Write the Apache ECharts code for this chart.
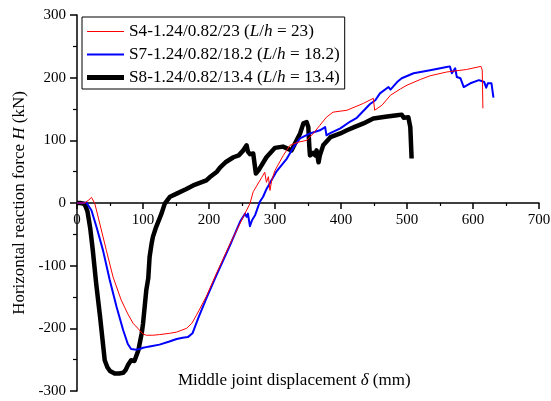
<!DOCTYPE html>
<html>
<head>
<meta charset="utf-8">
<script src="https://cdn.jsdelivr.net/npm/echarts@6/dist/echarts.min.js"></script>
<style>html,body{margin:0;padding:0;background:#fff}#c{width:551px;height:401px}</style>
</head>
<body>
<div id="c"></div>
<script>
var seriesNames = ['S4-1.24/0.82/23', 'S7-1.24/0.82/18.2', 'S8-1.24/0.82/13.4'];
var ratioLabels = ['23', '18.2', '13.4'];
var xTicks = [0, 100, 200, 300, 400, 500, 600, 700];
var yTicks = [-300, -200, -100, 0, 100, 200, 300];

var s4Data = [[0,0],[12,0],[18,5],[22,9],[24,6],[27,-1],[35,-35],[44.6,-76],[54.6,-118],[67,-155],[77,-177],[85,-192],[93,-201],[100,-209],[105,-211],[115,-211],[125,-210],[140,-208],[151,-206],[166,-200],[174,-192],[181,-179],[196,-149],[211,-113],[232,-65],[252,-22],[262,-1],[267,18],[280,41],[284.5,49],[287,33],[290,42],[292.4,20],[295,36],[300,52],[312.6,76],[322.7,92],[335,97],[348,100],[358,111],[368,124],[378,137],[388,145],[409,148],[434,159],[449,167],[451,148],[462,156],[475,172],[490,182],[500,188],[502,185],[520,197],[535,203],[560,209],[590,213],[612,218],[614,212],[615,151]];

var s7Data = [[0,0],[10,0],[14,1],[17,0],[22,-12],[30,-40],[39.5,-76],[49.6,-123],[60,-166],[70,-203],[77,-225],[82,-233],[90,-234],[95,-233],[100,-231],[105,-230],[110,-229],[125,-226],[140,-221],[151,-217],[160,-215],[168,-214],[175,-208],[184,-183],[196,-152],[211,-116],[232,-67],[247,-30],[254.5,-17],[257,-22],[259,-17],[262,-37],[265,-28],[270,-19],[277,2],[282,10],[287,22],[302,50],[318,71],[328,89],[338,103],[353,111],[368,116],[376,121],[378,108],[383,111],[399,119],[414,130],[424,136],[444,158],[452,164],[459,175],[472,185],[475,181],[485,193],[492,199],[510,207],[535,212],[560,217],[565,218],[568,207],[573,215],[575.5,201],[581,199],[586,185],[596,191],[609,196],[617,193],[620,184],[622.5,191],[628,191],[631,168]];

var s8Data = [[0,0],[5,0],[10,-1],[13,-5],[16,-14],[20,-40],[24,-76],[29,-128],[35,-182],[42,-251],[46,-262],[50,-268],[57,-272],[64,-272],[70,-271],[74,-266],[77,-259],[82,-251],[87,-252],[90,-249],[93,-235],[98,-208],[100,-193],[105,-139],[108,-120],[110,-86],[113,-65],[115,-54],[120,-38],[125,-25],[128,-17],[133,-1],[141,10],[151,15],[165,22],[176,28],[196,36],[201,41],[212,50],[217,57],[225,65],[237,73],[245,76],[252,84],[257,92],[259,82],[262,78],[265,76],[267,79],[271,47],[275,52],[287,73],[300,88],[312,90],[325,84],[338,111],[343,127],[348,129],[350.5,121],[352,90],[353,76],[355,73],[358,80],[361,76],[363,84],[366,65],[368,76],[373,92],[384,105],[399,111],[409,116],[420,121],[434,127],[449,135],[470,138],[485,140],[492,141],[495,136],[502,137],[505,121],[507,71]];

var colors = ['#ff0000', '#0000ff', '#000000'];
var widths = [1, 2, 4.5];
var iconPaths = ['path://M0,0h37v1h-37z', 'path://M0,0h37v2h-37z', 'path://M0,0h37v5h-37z'];
var allData = [s4Data, s7Data, s8Data];
var FONT = '"Liberation Serif", "Times New Roman", serif';
var GRID_TOP = 15, GRID_BOTTOM = 10, H = 401;
var zeroOffset = -((H - GRID_TOP - GRID_BOTTOM) * (0 - yTicks[0]) / (yTicks[yTicks.length - 1] - yTicks[0]));

var chart = echarts.init(document.getElementById('c'), null, {renderer: 'canvas'});
var series = seriesNames.map(function (n, i) {
  return {
    name: n, type: 'line', data: allData[i], symbol: 'none', smooth: false,
    lineStyle: {color: colors[i], width: widths[i], join: 'round'},
    itemStyle: {color: colors[i]},
    animation: false, z: 3 - i
  };
});

chart.setOption({
  animation: false,
  grid: {left: 77, right: 12, top: GRID_TOP, bottom: GRID_BOTTOM, containLabel: false, outerBoundsMode: 'none'},
  xAxis: {
    type: 'value', position: 'bottom', offset: zeroOffset,
    min: xTicks[0], max: xTicks[xTicks.length - 1], interval: 100,
    axisLine: {show: true, onZero: false, lineStyle: {color: '#000', width: 1.5}},
    axisTick: {show: true, inside: false, length: 6, lineStyle: {color: '#000', width: 1.5}},
    minorTick: {show: true, splitNumber: 2, length: 3, lineStyle: {color: '#000', width: 1.2}},
    axisLabel: {show: true, color: '#000', fontSize: 15, fontFamily: FONT, margin: 10, showMinLabel: true, showMaxLabel: true},
    splitLine: {show: false}
  },
  yAxis: {
    type: 'value', min: yTicks[0], max: yTicks[yTicks.length - 1], interval: 100,
    axisLine: {onZero: false, lineStyle: {color: '#000', width: 1.5}},
    axisTick: {show: true, inside: false, length: 7, lineStyle: {color: '#000', width: 1.5}},
    minorTick: {show: true, splitNumber: 2, length: 4, lineStyle: {color: '#000', width: 1.2}},
    axisLabel: {color: '#000', fontSize: 15, fontFamily: FONT, margin: 11},
    splitLine: {show: false},
    name: 'Horizontal reaction force {i|H} (kN)',
    nameLocation: 'middle', nameGap: 47, nameRotate: 90,
    nameTextStyle: {color: '#000', fontSize: 17, fontFamily: FONT,
      rich: {i: {fontStyle: 'italic', fontSize: 17, fontFamily: FONT, color: '#000'}}}
  },
  legend: {
    orient: 'vertical', left: 82, top: 17,
    padding: [5, 5, 2, 5],
    borderColor: '#000', borderWidth: 1,
    itemWidth: 37, itemHeight: 14, itemGap: 4,
    textStyle: {color: '#000', fontSize: 17.2, fontFamily: FONT, lineHeight: 19,
      rich: {i: {fontStyle: 'italic', fontSize: 17.2, fontFamily: FONT, color: '#000', lineHeight: 19}}},
    formatter: function (name) {
      var k = seriesNames.indexOf(name);
      return name + ' ({i|L}/{i|h} = ' + ratioLabels[k] + ')';
    },
    data: seriesNames.map(function (n, i) {
      return {name: n, icon: iconPaths[i], itemStyle: {color: colors[i], borderWidth: 0}};
    })
  },
  graphic: [{
    type: 'text', left: 178, top: 372,
    style: {
      text: 'Middle joint displacement {i|δ} (mm)',
      fill: '#000', font: '17px ' + FONT,
      rich: {i: {fontStyle: 'italic', fontSize: 17, fontFamily: FONT, fill: '#000'}}
    }
  }],
  series: series
});
</script>
</body>
</html>
